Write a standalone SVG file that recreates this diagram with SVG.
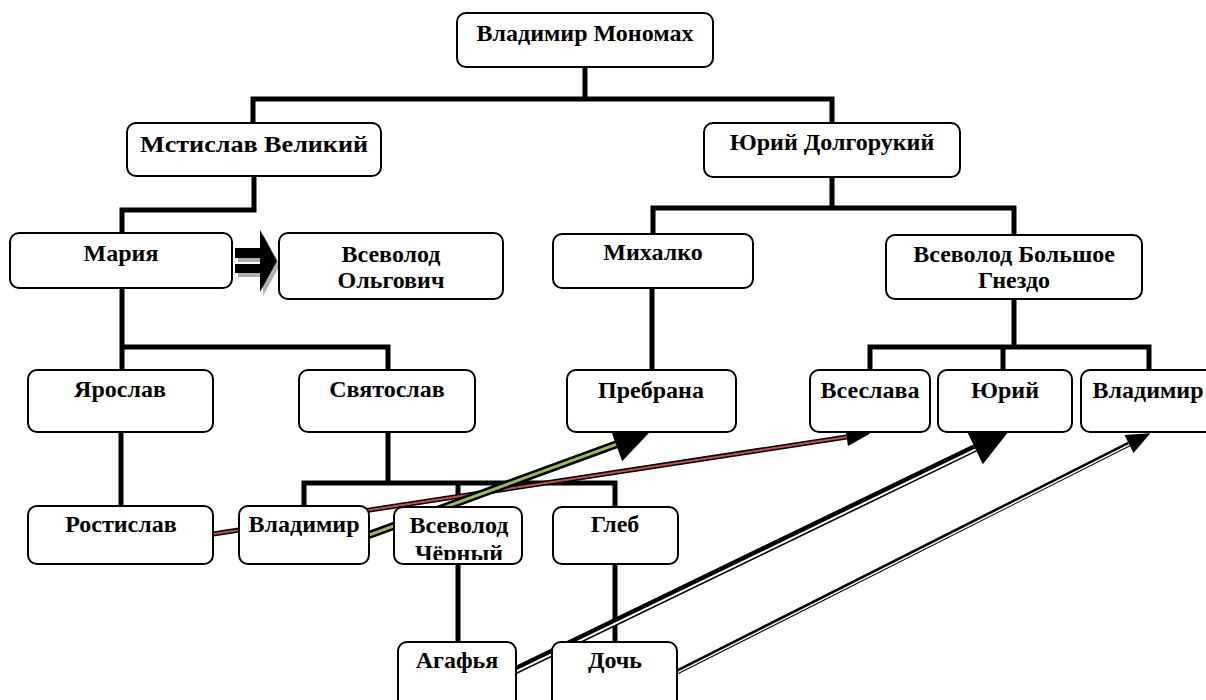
<svg xmlns="http://www.w3.org/2000/svg" width="1206" height="700" viewBox="0 0 1206 700">
<style>
.box{fill:#fff;stroke:#000;stroke-width:2}
.t{font-family:"Liberation Serif","Times New Roman",serif;font-weight:bold;font-size:24px;text-anchor:middle;fill:#000}
.tree{fill:none;stroke:#000;stroke-width:5;stroke-linecap:square}
</style>
<defs>
<clipPath id="clipVC"><rect x="395" y="508" width="126" height="52"/></clipPath>
</defs>
<rect width="1206" height="700" fill="#fff"/>
<g id="connectors">
<path class="tree" d="M253,123 V99 H832 V123 M585,67 V99"/>
<path class="tree" d="M254,176 V210 H122 V233"/>
<path class="tree" d="M832,177 V208 M653,234 V208 H1014 V235"/>
<path class="tree" d="M122,288 V347 H388 V370 M122,347 V370"/>
<path class="tree" d="M652,288 V370"/>
<path class="tree" d="M1014,299 V347 M870,370 V347 H1149 V370 M1003,347 V370"/>
<path class="tree" d="M121,432 V506"/>
<path class="tree" d="M388,432 V483 M304,506 V483 H615 V507 M458,483 V507"/>
<path class="tree" d="M458,564 V642"/>
<path class="tree" d="M615,564 V642"/>
<g id="marriage-arrow">
<g transform="translate(3,4)" fill="#b0b0b0">
<rect x="235" y="248" width="27" height="10"/>
<rect x="235" y="264" width="27" height="9"/>
<polygon points="260,230 277,261 260,292"/>
</g>
<g fill="#000">
<rect x="235" y="248" width="27" height="10"/>
<rect x="235" y="264" width="27" height="9"/>
<polygon points="260,230 277,261 260,292"/>
</g>
</g>
<g id="red-arrow">
<line x1="205" y1="535.2" x2="846.6" y2="437" stroke="#000" stroke-width="5"/>
<line x1="205" y1="535.2" x2="846.6" y2="437" stroke="#c0504d" stroke-width="2"/>
<polygon points="870.3,433.4 848,445.9 845.2,428.1" fill="#000"/>
</g>
<g id="green-arrow">
<line x1="360" y1="538.3" x2="616" y2="444.4" stroke="#000" stroke-width="8"/>
<line x1="360" y1="538.3" x2="616" y2="444.4" stroke="#9bbb59" stroke-width="3"/>
<polygon points="649.8,432 622.2,461.3 609.8,427.5" fill="#000"/>
</g>
<g id="double-arrow-1">
<line x1="505" y1="675.3" x2="975" y2="448" stroke="#000" stroke-width="8"/>
<line x1="505.6" y1="676.6" x2="975.6" y2="449.3" stroke="#fff" stroke-width="2"/>
<polygon points="1009,431 982.8,464.2 967.2,431.8" fill="#000"/>
</g>
<g id="double-arrow-2">
<line x1="670" y1="675.5" x2="1129" y2="444" stroke="#000" stroke-width="5"/>
<line x1="670.4" y1="676.2" x2="1129.4" y2="444.7" stroke="#fff" stroke-width="1.5"/>
<polygon points="1150.4,433.2 1133.5,452.9 1124.5,435.1" fill="#000"/>
</g>
</g>
<g id="n-monomakh"><rect class="box" x="457" y="13" width="256" height="54" rx="9"/><text class="t" x="585" y="41">Владимир Мономах</text></g>
<g id="n-mstislav"><rect class="box" x="127" y="123" width="254" height="53" rx="9"/><text class="t" x="254" y="152" textLength="228" lengthAdjust="spacingAndGlyphs">Мстислав Великий</text></g>
<g id="n-yuri-dolg"><rect class="box" x="704" y="123" width="256" height="54" rx="9"/><text class="t" x="832" y="150">Юрий Долгорукий</text></g>
<g id="n-maria"><rect class="box" x="10" y="233" width="222" height="55" rx="9"/><text class="t" x="121" y="261">Мария</text></g>
<g id="n-vsevolod-olg"><rect class="box" x="279" y="233" width="224" height="66" rx="9"/><text class="t" x="391" y="262">Всеволод</text><text class="t" x="391" y="288">Ольгович</text></g>
<g id="n-mikhalko"><rect class="box" x="553" y="234" width="200" height="54" rx="9"/><text class="t" x="653" y="260">Михалко</text></g>
<g id="n-vsevolod-bg"><rect class="box" x="886" y="235" width="256" height="64" rx="9"/><text class="t" x="1014" y="262">Всеволод Большое</text><text class="t" x="1014" y="288">Гнездо</text></g>
<g id="n-yaroslav"><rect class="box" x="28" y="370" width="185" height="62" rx="9"/><text class="t" x="120" y="397">Ярослав</text></g>
<g id="n-svyatoslav"><rect class="box" x="299" y="370" width="176" height="62" rx="9"/><text class="t" x="387" y="397">Святослав</text></g>
<g id="n-prebrana"><rect class="box" x="567" y="370" width="169" height="62" rx="9"/><text class="t" x="651" y="398">Пребрана</text></g>
<g id="n-vseslava"><rect class="box" x="810" y="370" width="120" height="62" rx="9"/><text class="t" x="870" y="398">Всеслава</text></g>
<g id="n-yuri"><rect class="box" x="938" y="370" width="134" height="62" rx="9"/><text class="t" x="1005" y="398">Юрий</text></g>
<g id="n-vladimir-r"><rect class="box" x="1081" y="370" width="134" height="62" rx="9"/><text class="t" x="1148" y="398">Владимир</text></g>
<g id="n-rostislav"><rect class="box" x="28" y="506" width="185" height="58" rx="9"/><text class="t" x="121" y="532">Ростислав</text></g>
<g id="n-vladimir"><rect class="box" x="239" y="506" width="130" height="58" rx="9"/><text class="t" x="304" y="532">Владимир</text></g>
<g id="n-vsevolod-ch"><rect class="box" x="394" y="507" width="128" height="57" rx="9"/><g clip-path="url(#clipVC)"><text class="t" x="459" y="533">Всеволод</text><text class="t" x="459" y="561">Чёрный</text></g></g>
<g id="n-gleb"><rect class="box" x="553" y="507" width="125" height="57" rx="9"/><text class="t" x="615" y="532">Глеб</text></g>
<g id="n-agafya"><rect class="box" x="398" y="642" width="118" height="66" rx="9"/><text class="t" x="457" y="668">Агафья</text></g>
<g id="n-doch"><rect class="box" x="552" y="642" width="125" height="66" rx="9"/><text class="t" x="615" y="668">Дочь</text></g>
</svg>
